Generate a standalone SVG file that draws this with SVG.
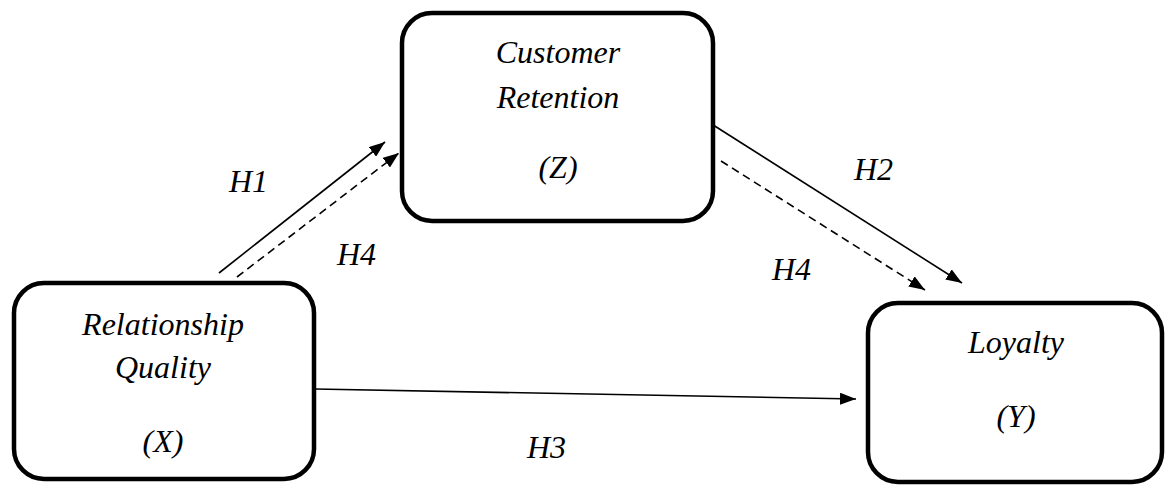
<svg xmlns="http://www.w3.org/2000/svg" width="1166" height="485" viewBox="0 0 1166 485">
  <style>
    .box { fill: #ffffff; stroke: #000000; stroke-width: 4.5; }
    .lbl { font-family: "Liberation Serif", "Times New Roman", serif; font-style: italic; font-size: 32px; fill: #000000; text-anchor: middle; }
    .hyp { font-family: "Liberation Serif", "Times New Roman", serif; font-style: italic; font-size: 32px; fill: #000000; }
    .link { fill: none; stroke: #000000; stroke-width: 1.6; marker-end: url(#head); }
    .dash { stroke-dasharray: 8 5; }
  </style>
  <defs>
    <marker id="head" viewBox="0 0 16 12" refX="16" refY="6" markerWidth="16" markerHeight="12" markerUnits="userSpaceOnUse" orient="auto">
      <path d="M0,0 L16,6 L0,12 z" fill="#000000"/>
    </marker>
  </defs>
  <rect width="1166" height="485" fill="#ffffff"/>

  <!-- Arrows between the constructs -->
  <g id="connectors">
    <path class="link" d="M219,273 L385,142"/>
    <path class="link dash" d="M237,277 L399,153"/>
    <path class="link" d="M710,123 L962,283"/>
    <path class="link dash" d="M721,161 L925,290"/>
    <path class="link" d="M315,389 L856,399"/>
  </g>

  <g id="node-x">
    <rect class="box" x="14" y="283" width="300" height="196" rx="30" ry="30"/>
    <text class="lbl" x="163" y="335">Relationship</text>
    <text class="lbl" x="163" y="378">Quality</text>
    <text class="lbl" x="163" y="452">(X)</text>
  </g>

  <g id="node-z">
    <rect class="box" x="402" y="13" width="311" height="208" rx="30" ry="30"/>
    <text class="lbl" x="558" y="63">Customer</text>
    <text class="lbl" x="558" y="108">Retention</text>
    <text class="lbl" x="558" y="178">(Z)</text>
  </g>

  <g id="node-y">
    <rect class="box" x="868" y="303" width="294" height="179" rx="30" ry="30"/>
    <text class="lbl" x="1016" y="353">Loyalty</text>
    <text class="lbl" x="1016" y="427">(Y)</text>
  </g>

  <g id="hypotheses">
    <text class="hyp" x="229" y="192">H1</text>
    <text class="hyp" x="337" y="265">H4</text>
    <text class="hyp" x="854" y="180">H2</text>
    <text class="hyp" x="772" y="280">H4</text>
    <text class="hyp" x="527" y="458">H3</text>
  </g>
</svg>
